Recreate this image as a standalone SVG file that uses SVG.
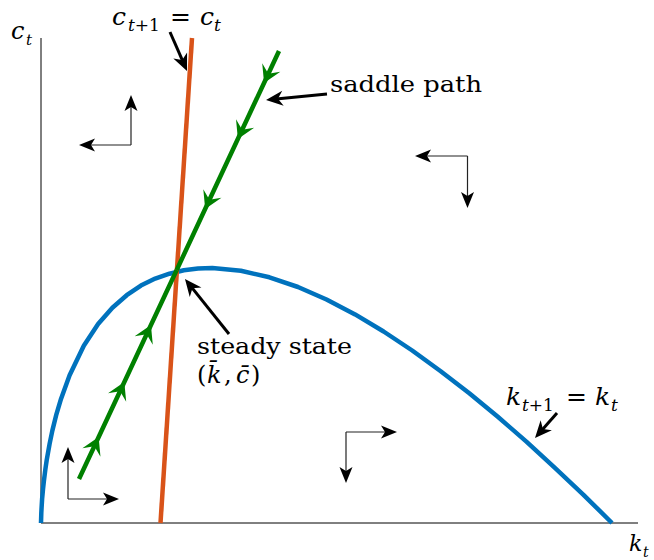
<svg xmlns="http://www.w3.org/2000/svg" width="654" height="560" viewBox="0 0 654 560">
<style>
  .axis{stroke:#000;stroke-width:1;fill:none}
  .phase{stroke:#222;stroke-width:1.2;fill:none;marker-end:url(#hs)}
  .lab{stroke:#000;stroke-width:3;fill:none;marker-end:url(#hl)}
  text{font-family:'DejaVu Serif',serif;fill:#000}
  .m{font-style:italic}
  .r{font-style:normal}
</style>
<defs>
  <marker id="hs" markerUnits="userSpaceOnUse" viewBox="-20 -10 30 20" refX="0" refY="0" markerWidth="30" markerHeight="20" orient="auto">
    <path d="M3,0 L-13,-6.5 L-9,0 L-13,6.5 Z" fill="#000"/>
  </marker>
  <marker id="hl" markerUnits="userSpaceOnUse" viewBox="-20 -10 30 20" refX="0" refY="0" markerWidth="30" markerHeight="20" orient="auto">
    <path d="M5,0 L-12,-7.5 L-7,0 L-12,7.5 Z" fill="#000"/>
  </marker>
  <marker id="hg" markerUnits="userSpaceOnUse" viewBox="-20 -12 30 24" refX="0" refY="0" markerWidth="30" markerHeight="24" orient="auto">
    <path d="M1,0 L-16,-10 L-9,0 L-16,10 Z" fill="#008000"/>
  </marker>
</defs>

<g id="axes">
  <path class="axis" d="M41,38 L41,523 L638,523"/>
</g>

<g id="connectors">
  <path id="kcurve" d="M41,523 L41.3,513.0 L41.6,507.4 L42.1,499.0 L43.0,489.2 L43.9,481.1 L45.3,469.8 L46.7,460.1 L49.6,443.9 L52.4,430.4 L56.4,414.3 L61.0,398.9 L69.6,375.3 L83.8,345.8 L98.1,324.1 L112.4,307.7 L126.7,295.2 L140.9,285.6 L155.2,278.6 L169.5,273.7 L183.8,270.3 L198.0,268.6 L212.3,268.0 L240.9,270.8 L269.4,277.3 L298.0,287.0 L326.5,299.5 L355.1,314.4 L383.6,331.5 L412.2,350.5 L440.7,371.2 L469.3,393.2 L497.8,416.8 L526.4,441.6 L554.9,467.8 L583.5,494.8 L612,523" fill="none" stroke="#0072BD" stroke-width="4.5" stroke-linejoin="round"/>
  <path id="cline" d="M192,38 L160.5,523" fill="none" stroke="#D95319" stroke-width="4.5"/>
  <path id="saddle-top" d="M279,51 L264.5,82 L238.3,138 L205.6,208 L176.7,270" fill="none" stroke="#008000" stroke-width="4.5" marker-mid="url(#hg)"/>
  <path id="saddle-bottom" d="M79,479 L98.2,438 L123.9,383 L150.5,326 L176.7,270" fill="none" stroke="#008000" stroke-width="4.5" marker-mid="url(#hg)"/>

  <g id="phase-arrows">
    <path class="phase" d="M131,145 L131,98"/>
    <path class="phase" d="M131,145 L82,145"/>
    <path class="phase" d="M467.5,156 L418,156"/>
    <path class="phase" d="M467.5,156 L467.5,205"/>
    <path class="phase" d="M346,432 L394,432"/>
    <path class="phase" d="M346,432 L346,480"/>
    <path class="phase" d="M68,499 L68,450"/>
    <path class="phase" d="M68,499 L116,499"/>
  </g>

  <g id="label-arrows">
    <path class="lab" d="M170,32 L185,66.4"/>
    <path class="lab" d="M327,94 L271,99.5"/>
    <path class="lab" d="M229,334 L188.1,282.9"/>
    <path class="lab" d="M557,413 L538.3,434.2"/>
  </g>
</g>

<g id="label-ct">
  <text class="m" x="11" y="39" font-size="24">c</text>
  <text class="m" x="26" y="45" font-size="15">t</text>
</g>
<g id="label-kt">
  <text class="m" x="629" y="551" font-size="22">k</text>
  <text class="m" x="643" y="557" font-size="14">t</text>
</g>
<g id="label-cline">
  <text class="m" x="112" y="25" font-size="25">c</text>
  <text x="128" y="31" font-size="17"><tspan class="m">t</tspan><tspan class="r">+1</tspan></text>
  <text class="r" x="170" y="25" font-size="25">=</text>
  <text class="m" x="200" y="25" font-size="25">c</text>
  <text class="m" x="214" y="31" font-size="17">t</text>
</g>
<g id="label-kline">
  <text class="m" x="506" y="405" font-size="25">k</text>
  <text x="522" y="411" font-size="17"><tspan class="m">t</tspan><tspan class="r">+1</tspan></text>
  <text class="r" x="566" y="405" font-size="25">=</text>
  <text class="m" x="595" y="405" font-size="25">k</text>
  <text class="m" x="611" y="411" font-size="17">t</text>
</g>
<g id="label-saddle">
  <text font-size="23" x="330" y="92" textLength="152" lengthAdjust="spacingAndGlyphs">saddle path</text>
</g>
<g id="label-steady">
  <text font-size="23" x="197" y="354" textLength="155" lengthAdjust="spacingAndGlyphs">steady state</text>
  <text x="197" y="383" font-size="24"><tspan class="r">(</tspan><tspan class="m" x="207">k̄</tspan><tspan class="r" x="224">,</tspan><tspan class="m" x="236">c̄</tspan><tspan class="r" x="251">)</tspan></text>
</g>
</svg>
